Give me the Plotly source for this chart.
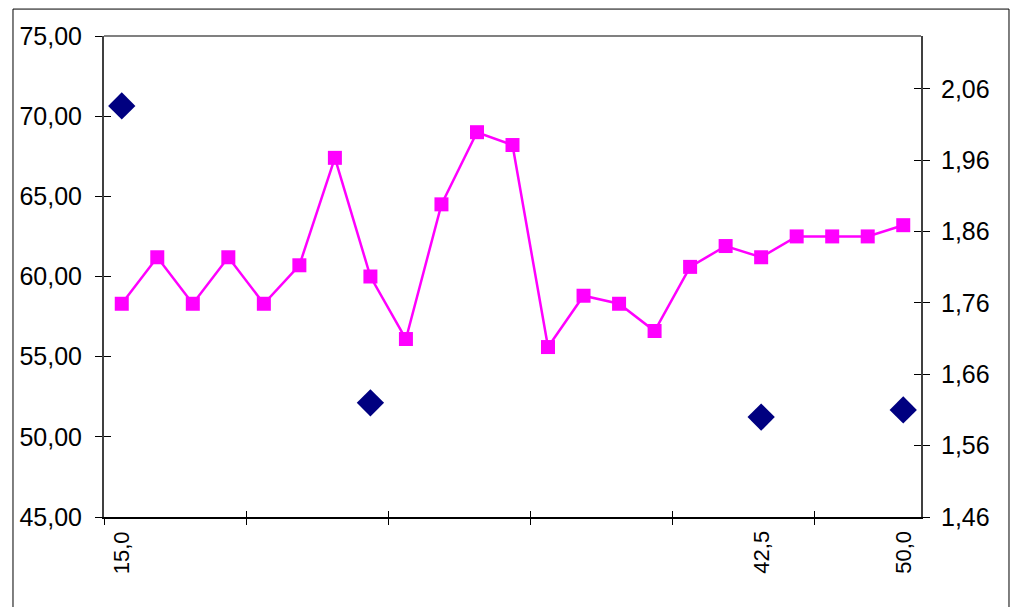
import plotly.graph_objects as go

# ---- data ----
categories = list(range(23))                       # category positions (23 categories)
category_labels = {0: "15,0", 18: "42,5", 22: "50,0"}  # only labelled categories
magenta_values = [58.3, 61.2, 58.3, 61.2, 58.3, 60.7, 67.4, 60.0, 56.1, 64.5, 69.0, 68.2,
                  55.6, 58.8, 58.3, 56.6, 60.6, 61.9, 61.2, 62.5, 62.5, 62.5, 63.2]
diamond_categories = [0, 7, 18, 22]
diamond_values = [2.036, 1.62, 1.60, 1.61]
left_ticks = [45, 50, 55, 60, 65, 70, 75]
right_ticks = [1.46, 1.56, 1.66, 1.76, 1.86, 1.96, 2.06]
x_tick_bounds = [-0.5, 3.5, 7.5, 11.5, 15.5, 19.5]

FONT = "Liberation Sans, Arial, sans-serif"
LEFT_RANGE = [45, 75]
RIGHT_RANGE = [1.46, 2.134]
X_RANGE = [-0.5, 22.5]

fig = go.Figure()

fig.add_trace(go.Scatter(
    x=categories, y=magenta_values, mode="lines+markers",
    line=dict(color="#FF00FF", width=2.5),
    marker=dict(symbol="square", size=14, color="#FF00FF"),
    xaxis="x", yaxis="y", showlegend=False))

fig.add_trace(go.Scatter(
    x=diamond_categories, y=diamond_values, mode="markers",
    marker=dict(symbol="diamond", size=21, color="#000080"),
    xaxis="x", yaxis="y2", showlegend=False))

# invisible traces to carry overlay axes used for inner half of cross ticks
fig.add_trace(go.Scatter(x=[categories[0]], y=[magenta_values[0]], mode="markers",
                         marker=dict(opacity=0), xaxis="x2", yaxis="y3",
                         showlegend=False, hoverinfo="skip"))
fig.add_trace(go.Scatter(x=[categories[0]], y=[diamond_values[0]], mode="markers",
                         marker=dict(opacity=0), xaxis="x2", yaxis="y4",
                         showlegend=False, hoverinfo="skip"))

annotations = []
for idx, lab in category_labels.items():
    annotations.append(dict(x=idx, xref="x", y=-0.025, yref="paper", text=lab,
                            textangle=-90, showarrow=False, xanchor="center",
                            yanchor="top", font=dict(family=FONT, size=22, color="black")))

fig.update_layout(
    width=1026, height=607,
    margin=dict(l=96, r=113, t=28, b=98),
    paper_bgcolor="white", plot_bgcolor="white",
    separators=",.",
    xaxis=dict(range=X_RANGE, tickvals=x_tick_bounds, ticktext=[""] * len(x_tick_bounds),
               ticks="outside", ticklen=6, tickcolor="black", showgrid=False,
               zeroline=False, showline=True, linecolor="black", linewidth=1.5),
    xaxis2=dict(range=X_RANGE, overlaying="x", tickvals=x_tick_bounds,
                ticktext=[""] * len(x_tick_bounds), ticks="inside", ticklen=6,
                tickcolor="black", showgrid=False, zeroline=False, showline=False,
                side="bottom", anchor="y"),
    yaxis=dict(range=LEFT_RANGE, tickvals=left_ticks, tickformat=".2f",
               ticks="outside", ticklen=7, tickcolor="black", ticklabelstandoff=8,
               showgrid=False, zeroline=False, showline=True, linecolor="#404040",
               linewidth=2, tickfont=dict(family=FONT, size=25, color="black")),
    yaxis2=dict(range=RIGHT_RANGE, tickvals=right_ticks, tickformat=".2f",
                overlaying="y", side="right", anchor="x",
                ticks="outside", ticklen=7, tickcolor="black", ticklabelstandoff=6,
                showgrid=False, zeroline=False, showline=True, linecolor="#404040",
                linewidth=2, tickfont=dict(family=FONT, size=25, color="black")),
    yaxis3=dict(range=LEFT_RANGE, tickvals=left_ticks, showticklabels=False,
                overlaying="y", side="left", anchor="x2", ticks="inside", ticklen=7,
                tickcolor="black", showgrid=False, zeroline=False, showline=False),
    yaxis4=dict(range=RIGHT_RANGE, tickvals=right_ticks, showticklabels=False,
                overlaying="y", side="right", anchor="x2", ticks="inside", ticklen=7,
                tickcolor="black", showgrid=False, zeroline=False, showline=False),
    annotations=annotations,
    shapes=[
        dict(type="line", xref="paper", yref="paper", x0=0, x1=1, y0=1, y1=1,
             line=dict(color="#808080", width=2)),
        dict(type="rect", xref="paper", yref="paper", x0=-0.1114, x1=1.1077,
             y0=-0.5, y1=1.056, line=dict(color="black", width=1),
             fillcolor="rgba(0,0,0,0)", layer="below"),
    ],
)

fig.write_html("out.html")
